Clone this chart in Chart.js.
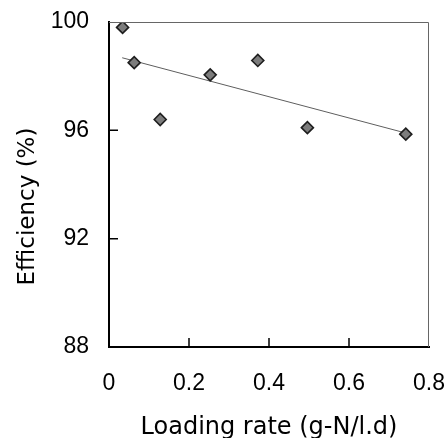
<!DOCTYPE html>
<html>
<head>
<meta charset="utf-8">
<script src="https://cdn.jsdelivr.net/npm/chart.js@4.4.1/dist/chart.umd.min.js"></script>
<style>
	html, body { margin: 0; padding: 0; background: #fff; }
	#wrap { width: 445px; height: 438px; }
</style>
</head>
<body>
<div id="wrap"><canvas id="efficiency-chart"></canvas></div>
<script>
const loadingRate = [0.034, 0.063, 0.128, 0.253, 0.372, 0.496, 0.742];
const efficiency = [99.8, 98.5, 96.4, 98.05, 98.58, 96.1, 95.86];
const trendX = [0.033, 0.742];
const trendY = [98.68, 95.9];
const xTicks = [0, 0.2, 0.4, 0.6, 0.8];
const yTicks = [88, 92, 96, 100];
const xTitle = 'Loading rate (g-N/l.d)';
const yTitle = 'Efficiency (%)';

const tickFont = { family: 'Liberation Sans', size: 23 };

function noPadding(scale) {
	scale.paddingTop = 0;
	scale.paddingBottom = 0;
	scale.paddingLeft = 0;
	scale.paddingRight = 0;
}

// top/right frame, inward tick marks and the axis titles
const framePlugin = {
	id: 'frame',
	afterDraw(chart) {
		const { ctx, chartArea: a, scales } = chart;
		ctx.save();
		ctx.strokeStyle = '#666';
		ctx.lineWidth = 1;
		ctx.beginPath();
		ctx.moveTo(a.left, a.top + 0.5);
		ctx.lineTo(a.right - 0.5, a.top + 0.5);
		ctx.lineTo(a.right - 0.5, a.bottom);
		ctx.stroke();

		ctx.strokeStyle = '#000';
		ctx.lineWidth = 1.5;
		ctx.beginPath();
		scales.x.ticks.forEach((t) => {
			const px = scales.x.getPixelForValue(t.value);
			if (px > a.left + 2 && px < a.right - 2) {
				ctx.moveTo(px, a.bottom);
				ctx.lineTo(px, a.bottom - 9);
			}
		});
		scales.y.ticks.forEach((t) => {
			const py = scales.y.getPixelForValue(t.value);
			if (py > a.top + 2 && py < a.bottom - 2) {
				ctx.moveTo(a.left, py);
				ctx.lineTo(a.left + 9, py);
			}
		});
		ctx.stroke();

		ctx.fillStyle = '#000';
		ctx.textAlign = 'center';
		ctx.textBaseline = 'alphabetic';
		ctx.font = '24px "DejaVu Sans"';
		ctx.fillText(xTitle, (a.left + a.right) / 2, chart.height - 4);

		ctx.font = '23px "DejaVu Sans"';
		ctx.translate(34, (a.top + a.bottom) / 2 + 22);
		ctx.rotate(-Math.PI / 2);
		ctx.fillText(yTitle, 0, 0);
		ctx.restore();
	},
};

document.addEventListener('DOMContentLoaded', () => {
	const ctx = document.getElementById('efficiency-chart');

	new Chart(ctx, {
		type: 'scatter',
		data: {
			datasets: [
				{
					data: loadingRate.map((x, i) => ({ x, y: efficiency[i] })),
					pointStyle: 'rectRot',
					radius: 6,
					backgroundColor: '#7c7c7c',
					borderColor: '#1e1e1e',
					borderWidth: 1.6,
					order: 1,
				},
				{
					type: 'line',
					data: trendX.map((x, i) => ({ x, y: trendY[i] })),
					borderColor: '#5e5e5e',
					borderWidth: 1,
					pointRadius: 0,
					order: 2,
				},
			],
		},
		options: {
			responsive: true,
			maintainAspectRatio: false,
			animation: false,
			layout: {
				padding: { left: 0, right: 16, top: 22, bottom: 0 },
			},
			plugins: {
				legend: { display: false },
				tooltip: { enabled: false },
			},
			scales: {
				x: {
					type: 'linear',
					min: 0,
					max: 0.8,
					afterBuildTicks: (scale) => {
						scale.ticks = xTicks.map((value) => ({ value }));
					},
					afterFit: (scale) => {
						scale.height = 91;
						noPadding(scale);
					},
					grid: { display: false, drawTicks: false },
					border: { color: '#000', width: 2 },
					ticks: {
						color: '#000',
						font: tickFont,
						padding: 23,
						maxRotation: 0,
						callback: (v) => String(v),
					},
				},
				y: {
					min: 88,
					max: 100,
					afterBuildTicks: (scale) => {
						scale.ticks = yTicks.map((value) => ({ value }));
					},
					afterFit: (scale) => {
						scale.width = 109;
						noPadding(scale);
					},
					grid: { display: false, drawTicks: false },
					border: { color: '#000', width: 2 },
					ticks: {
						color: '#000',
						font: tickFont,
						padding: 20,
					},
				},
			},
		},
		plugins: [framePlugin],
	});
});
</script>
</body>
</html>
